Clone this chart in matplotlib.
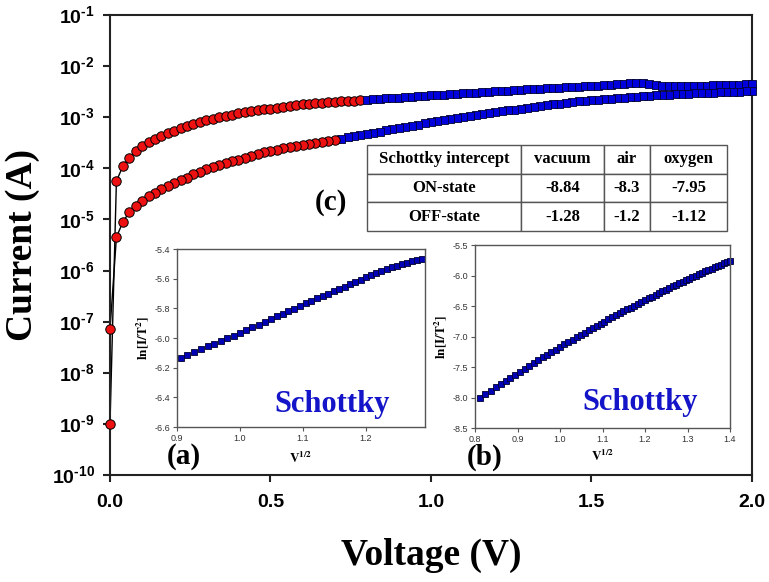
import numpy as np
import matplotlib
matplotlib.use('Agg')
import matplotlib.pyplot as plt
from matplotlib.ticker import NullLocator, FixedLocator, FormatStrFormatter

plt.rcParams['mathtext.fontset'] = 'custom'
plt.rcParams['mathtext.bf'] = 'Liberation Sans:bold'
plt.rcParams['mathtext.rm'] = 'Liberation Sans:bold'
plt.rcParams['axes.unicode_minus'] = False

# Main I-V sweep (voltage in V, current as log10 of A)
volts = [0.00, 0.02, 0.04, 0.06, 0.08, 0.10, 0.12, 0.14, 0.16, 0.18,
         0.20, 0.22, 0.24, 0.26, 0.28, 0.30, 0.32, 0.34, 0.36, 0.38,
         0.40, 0.42, 0.44, 0.46, 0.48, 0.50, 0.52, 0.54, 0.56, 0.58,
         0.60, 0.62, 0.64, 0.66, 0.68, 0.70, 0.72, 0.74, 0.76, 0.78,
         0.80, 0.82, 0.84, 0.86, 0.88, 0.90, 0.92, 0.94, 0.96, 0.98,
         1.00, 1.02, 1.04, 1.06, 1.08, 1.10, 1.12, 1.14, 1.16, 1.18,
         1.20, 1.22, 1.24, 1.26, 1.28, 1.30, 1.32, 1.34, 1.36, 1.38,
         1.40, 1.42, 1.44, 1.46, 1.48, 1.50, 1.52, 1.54, 1.56, 1.58,
         1.60, 1.62, 1.64, 1.66, 1.68, 1.70, 1.72, 1.74, 1.76, 1.78,
         1.80, 1.82, 1.84, 1.86, 1.88, 1.90, 1.92, 1.94, 1.96, 1.98,
         2.00]

upper_log_i = [-9.00, -4.25, -3.96, -3.79, -3.66, -3.57, -3.49, -3.42, -3.36, -3.31,
               -3.26, -3.21, -3.17, -3.13, -3.09, -3.06, -3.03, -3.00, -2.97, -2.95,
               -2.92, -2.90, -2.88, -2.86, -2.84, -2.83, -2.81, -2.80, -2.78, -2.77,
               -2.75, -2.74, -2.73, -2.72, -2.71, -2.70, -2.69, -2.685, -2.68, -2.67,
               -2.66, -2.65, -2.64, -2.63, -2.62, -2.615, -2.61, -2.60, -2.59, -2.58,
               -2.57, -2.565, -2.56, -2.55, -2.545, -2.535, -2.53, -2.52, -2.51, -2.50,
               -2.49, -2.485, -2.48, -2.47, -2.465, -2.455, -2.45, -2.44, -2.435, -2.43,
               -2.42, -2.41, -2.405, -2.40, -2.39, -2.385, -2.38, -2.37, -2.36, -2.355,
               -2.345, -2.34, -2.335, -2.34, -2.35, -2.37, -2.385, -2.39, -2.39, -2.39,
               -2.39, -2.385, -2.385, -2.38, -2.375, -2.37, -2.37, -2.365, -2.36, -2.355,
               -2.355]

lower_log_i = [-7.15, -5.35, -5.05, -4.86, -4.73, -4.63, -4.55, -4.48, -4.41, -4.35,
               -4.29, -4.23, -4.18, -4.12, -4.07, -4.02, -3.98, -3.94, -3.90, -3.86,
               -3.83, -3.79, -3.76, -3.72, -3.69, -3.66, -3.635, -3.61, -3.59, -3.57,
               -3.55, -3.53, -3.51, -3.485, -3.465, -3.44, -3.42, -3.395, -3.37, -3.35,
               -3.325, -3.30, -3.28, -3.255, -3.23, -3.21, -3.19, -3.165, -3.145, -3.12,
               -3.10, -3.08, -3.06, -3.04, -3.02, -3.00, -2.98, -2.96, -2.94, -2.92,
               -2.90, -2.885, -2.865, -2.85, -2.83, -2.815, -2.80, -2.78, -2.765, -2.75,
               -2.735, -2.72, -2.705, -2.69, -2.68, -2.665, -2.655, -2.645, -2.635, -2.625,
               -2.615, -2.605, -2.60, -2.59, -2.58, -2.575, -2.57, -2.56, -2.555, -2.55,
               -2.54, -2.535, -2.53, -2.525, -2.52, -2.515, -2.51, -2.505, -2.50, -2.495,
               -2.49]

upper_red_end = 0.78
lower_red_end = 0.70

# Inset (a): Schottky plot
inset_a_volts = [0.82, 0.84, 0.86, 0.88, 0.90, 0.92, 0.94, 0.96, 0.98, 1.00,
                 1.02, 1.04, 1.06, 1.08, 1.10, 1.12, 1.14, 1.16, 1.18, 1.20,
                 1.22, 1.24, 1.26, 1.28, 1.30, 1.32, 1.34, 1.36, 1.38, 1.40,
                 1.42, 1.44, 1.46, 1.48, 1.50, 1.52, 1.54, 1.56, 1.58, 1.60,
                 1.62, 1.64, 1.66]
inset_a_ln = [-6.135, -6.115, -6.096, -6.076, -6.057, -6.038, -6.020, -6.001, -5.983, -5.965,
              -5.946, -5.927, -5.909, -5.891, -5.872, -5.854, -5.836, -5.819, -5.801, -5.784,
              -5.767, -5.750, -5.733, -5.717, -5.701, -5.685, -5.668, -5.653, -5.637, -5.621,
              -5.606, -5.590, -5.577, -5.563, -5.551, -5.537, -5.524, -5.512, -5.502, -5.492,
              -5.483, -5.474, -5.465]

# Inset (b): Schottky plot
inset_b_volts = [0.66, 0.68, 0.70, 0.72, 0.74, 0.76, 0.78, 0.80, 0.82, 0.84,
                 0.86, 0.88, 0.90, 0.92, 0.94, 0.96, 0.98, 1.00, 1.02, 1.04,
                 1.06, 1.08, 1.10, 1.12, 1.14, 1.16, 1.18, 1.20, 1.22, 1.24,
                 1.26, 1.28, 1.30, 1.32, 1.34, 1.36, 1.38, 1.40, 1.42, 1.44,
                 1.46, 1.48, 1.50, 1.52, 1.54, 1.56, 1.58, 1.60, 1.62, 1.64,
                 1.66, 1.68, 1.70, 1.72, 1.74, 1.76, 1.78, 1.80, 1.82, 1.84,
                 1.86, 1.88, 1.90, 1.92, 1.94, 1.96]
inset_b_ln = [-8.000, -7.943, -7.887, -7.832, -7.779, -7.726, -7.675, -7.625, -7.575, -7.527,
              -7.479, -7.433, -7.387, -7.342, -7.299, -7.255, -7.213, -7.171, -7.130, -7.090,
              -7.050, -7.011, -6.973, -6.935, -6.898, -6.861, -6.825, -6.790, -6.755, -6.720,
              -6.687, -6.653, -6.621, -6.588, -6.556, -6.525, -6.494, -6.463, -6.434, -6.404,
              -6.374, -6.345, -6.317, -6.289, -6.261, -6.234, -6.207, -6.180, -6.154, -6.128,
              -6.103, -6.078, -6.053, -6.028, -6.004, -5.980, -5.956, -5.933, -5.910, -5.887,
              -5.864, -5.842, -5.820, -5.799, -5.777, -5.756]

# Table (c)
table_header = ['Schottky intercept', 'vacuum', 'air', 'oxygen']
on_state = [-8.84, -8.3, -7.95]
off_state = [-1.28, -1.2, -1.12]

y_exponents = [-1, -2, -3, -4, -5, -6, -7, -8, -9, -10]
x_ticks = [0.0, 0.5, 1.0, 1.5, 2.0]

RED = '#ee1111'
BLUE = '#0000dd'
INSET_BLUE = '#0000b4'
SERIF = 'Liberation Serif'

fig = plt.figure(figsize=(7.69, 5.82), dpi=100)
ax = fig.add_axes([0.14304, 0.18385, 0.83485, 0.79038])

v = np.array(volts)
up = 10.0 ** np.array(upper_log_i)
lo = 10.0 ** np.array(lower_log_i)

# connecting lines
ax.plot(v, up, color='k', lw=1.0, zorder=2, clip_on=False)
ax.plot(v, lo, color='k', lw=1.0, zorder=2, clip_on=False)

# forward sweep: red circles then blue squares
m = v <= upper_red_end + 1e-9
ax.plot(v[m], up[m], 'o', ms=6.8, mfc=RED, mec='k', mew=0.7, zorder=3, clip_on=False)
ax.plot(v[~m], up[~m], 's', ms=5.9, mfc=BLUE, mec='#000033', mew=0.6, zorder=3, clip_on=False)

# return sweep drawn from high voltage down
m = v <= lower_red_end + 1e-9
ax.plot(v[~m][::-1], lo[~m][::-1], 's', ms=5.9, mfc=BLUE, mec='#000033', mew=0.6, zorder=3, clip_on=False)
ax.plot(v[m][::-1], lo[m][::-1], 'o', ms=6.8, mfc=RED, mec='k', mew=0.7, zorder=3, clip_on=False)

ax.set_yscale('log')
ax.set_ylim(1e-10, 1e-1)
ax.set_xlim(0, 2.0)
ax.yaxis.set_major_locator(FixedLocator([10.0 ** e for e in y_exponents]))
ax.yaxis.set_minor_locator(NullLocator())
ax.set_yticklabels([r'$\mathbf{10}^{\mathbf{\text{-}%d}}$' % abs(e) for e in y_exponents])
ax.set_xticks(x_ticks)
ax.set_xticklabels(['%.1f' % t for t in x_ticks], family='Liberation Sans', weight='bold')
ax.tick_params(axis='both', direction='out', length=5, width=1.5, color='#222')
ax.tick_params(axis='x', labelsize=14, pad=9)
ax.tick_params(axis='y', labelsize=14, pad=6)
for s in ax.spines.values():
    s.set_linewidth(1.5)
    s.set_color('#222')

fig.text(431 / 769, 1 - 555 / 582, 'Voltage (V)', ha='center', va='center',
         family=SERIF, weight='bold', fontsize=27)
fig.text(23 / 769, 1 - 245 / 582, 'Current (A)', ha='center', va='center',
         rotation=90, family=SERIF, weight='bold', fontsize=27)


def style_inset(a):
    for s in a.spines.values():
        s.set_linewidth(1.0)
        s.set_color('#555555')
    a.tick_params(direction='out', length=3, width=0.8, color='#555555',
                  labelsize=6.5, labelcolor='#333333', pad=2)
    for lab in a.get_xticklabels() + a.get_yticklabels():
        lab.set_family('Liberation Sans')


# inset (a)
ia = fig.add_axes([0.2302, 0.2663, 0.3225, 0.3058])
ia.plot(np.sqrt(inset_a_volts), inset_a_ln, 's', ms=4.6, mfc=INSET_BLUE, mec='#000030', mew=0.6, clip_on=False)
ia.set_xlim(0.9, 1.294)
ia.set_ylim(-6.6, -5.4)
ia.set_xticks([0.9, 1.0, 1.1, 1.2])
ia.set_yticks([-6.6, -6.4, -6.2, -6.0, -5.8, -5.6, -5.4])
ia.xaxis.set_major_formatter(FormatStrFormatter('%.1f'))
ia.yaxis.set_major_formatter(FormatStrFormatter('%.1f'))
style_inset(ia)
ia.text(0.5, -0.174, r'$\mathbf{V^{1/2}}$', transform=ia.transAxes, ha='center', va='center',
        fontsize=9.5, math_fontfamily='stix')
ia.text(-0.137, 0.5, r'$\mathbf{ln[I/T^{2}]}$', transform=ia.transAxes, ha='center', va='center',
        rotation=90, fontsize=9.5, math_fontfamily='stix')
ia.text(0.625, 0.084, 'Schottky', transform=ia.transAxes, ha='center', va='baseline',
        family=SERIF, weight='bold', fontsize=22, color='#1414c8')

# inset (b)
ib = fig.add_axes([0.6177, 0.2646, 0.3316, 0.3144])
ib.plot(np.sqrt(inset_b_volts), inset_b_ln, 's', ms=4.8, mfc=INSET_BLUE, mec='#000030', mew=0.6, clip_on=False)
ib.set_xlim(0.8, 1.4)
ib.set_ylim(-8.5, -5.5)
ib.set_xticks([0.8, 0.9, 1.0, 1.1, 1.2, 1.3, 1.4])
ib.set_yticks([-8.5, -8.0, -7.5, -7.0, -6.5, -6.0, -5.5])
ib.xaxis.set_major_formatter(FormatStrFormatter('%.1f'))
ib.yaxis.set_major_formatter(FormatStrFormatter('%.1f'))
style_inset(ib)
ib.text(0.5, -0.158, r'$\mathbf{V^{1/2}}$', transform=ib.transAxes, ha='center', va='center',
        fontsize=9.5, math_fontfamily='stix')
ib.text(-0.133, 0.5, r'$\mathbf{ln[I/T^{2}]}$', transform=ib.transAxes, ha='center', va='center',
        rotation=90, fontsize=9.5, math_fontfamily='stix')
ib.text(0.647, 0.098, 'Schottky', transform=ib.transAxes, ha='center', va='baseline',
        family=SERIF, weight='bold', fontsize=22, color='#1414c8')

# panel letters
for lbl, px, py in [('(a)', 184, 457), ('(b)', 485, 457), ('(c)', 331, 202)]:
    fig.text(px / 769, 1 - py / 582, lbl, ha='center', va='center',
             family=SERIF, weight='bold', fontsize=21)

# table (c)
tax = fig.add_axes([0.4772, 0.6031, 0.4681, 0.1478])
tax.axis('off')
cells = [table_header,
         ['ON-state'] + [str(x) for x in on_state],
         ['OFF-state'] + [str(x) for x in off_state]]
col_w = np.array([154, 83, 46, 77], dtype=float)
tbl = tax.table(cellText=cells, colWidths=list(col_w / col_w.sum()), cellLoc='center',
                bbox=[0, 0, 1, 1])
tbl.auto_set_font_size(False)
for cell in tbl.get_celld().values():
    cell.set_edgecolor('#555555')
    cell.set_linewidth(1.0)
    cell.get_text().set_fontfamily(SERIF)
    cell.get_text().set_fontweight('bold')
    cell.get_text().set_fontsize(12)

fig.savefig('out.png', dpi=100)
